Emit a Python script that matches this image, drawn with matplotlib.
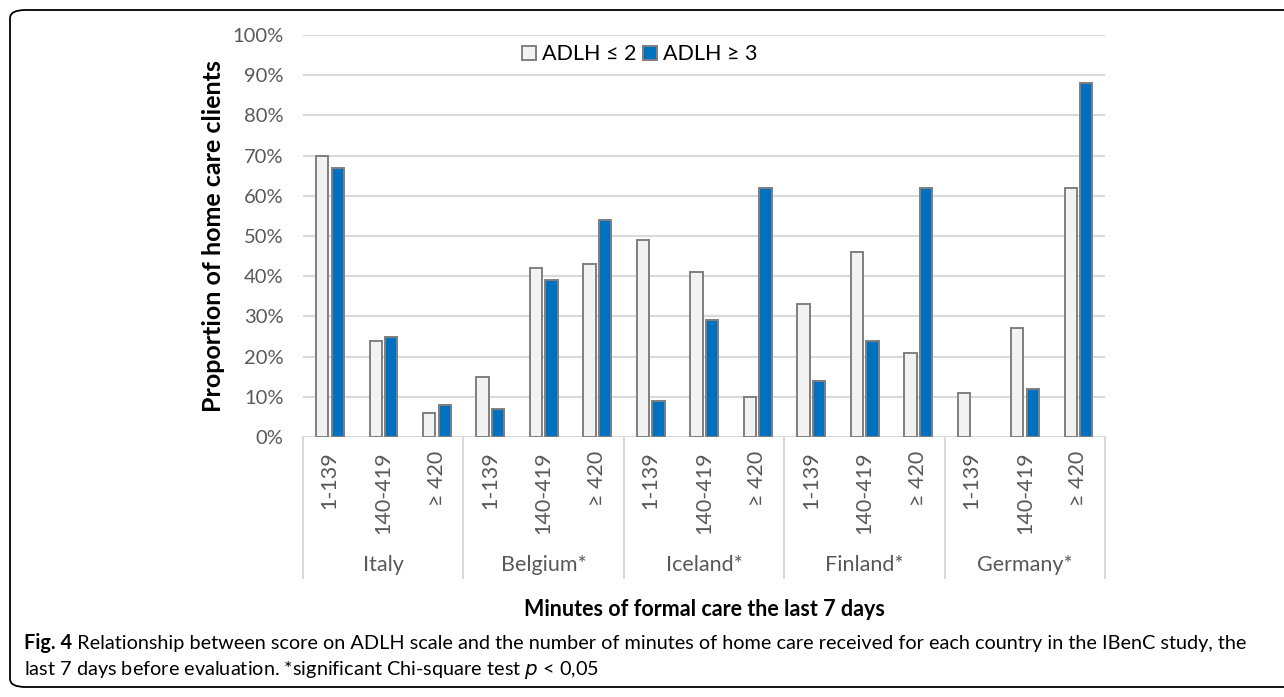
import matplotlib.pyplot as plt
import numpy as np
from matplotlib.patches import FancyBboxPatch

plt.rcParams["font.family"] = ["Lato", "DejaVu Sans"]

countries = ["Italy", "Belgium*", "Iceland*", "Finland*", "Germany*"]
minutes = ["1-139", "140-419", "\u2265 420"]
adlh_low = [70, 24, 6, 15, 42, 43, 49, 41, 10, 33, 46, 21, 11, 27, 62]
adlh_high = [67, 25, 8, 7, 39, 54, 9, 29, 62, 14, 24, 62, 0, 12, 88]
yticks = [0, 10, 20, 30, 40, 50, 60, 70, 80, 90, 100]

W, H = 1284, 697
fig = plt.figure(figsize=(W / 100, H / 100), dpi=100)
ax = fig.add_axes([303 / W, 1 - 437 / H, 802 / W, 402 / H])

x = np.arange(len(adlh_low))
bw = 0.23
ax.bar(x - 0.14, adlh_low, bw, color="#f2f2f2", edgecolor="#7f7f7f",
       linewidth=[1.4 if v > 0 else 0 for v in adlh_low], label="ADLH \u2264 2", zorder=3)
ax.bar(x + 0.15, adlh_high, bw, color="#0070c0", edgecolor="#7f7f7f",
       linewidth=[1.4 if v > 0 else 0 for v in adlh_high], label="ADLH \u2265 3", zorder=3)

ax.set_xlim(-0.5, len(x) - 0.5)
ax.set_ylim(0, 100)
ax.set_yticks(yticks)
ax.set_yticklabels([f"{v}%" for v in yticks], fontsize=14.5, color="#595959")
ax.tick_params(axis="y", length=0, pad=14)
ax.grid(axis="y", color="#d9d9d9", linewidth=1.5, zorder=0)
for s in ax.spines.values():
    s.set_visible(False)
ax.axhline(0, color="#d9d9d9", linewidth=1.5, zorder=2)

# multi-level category axis
ax.set_xticks([])
trans = ax.get_xaxis_transform()
for i in x:
    ax.text(i, -0.035, minutes[i % 3], rotation=90, ha="center", va="top",
            fontsize=15.5, color="#595959", transform=trans)
for g, name in enumerate(countries):
    ax.text(g * 3 + 1, -0.318, name, ha="center", va="center", fontsize=15.5,
            color="#595959", transform=trans)
for b in np.arange(-0.5, len(x), 3):
    ax.plot([b, b], [0, -0.35], color="#d9d9d9", linewidth=1.5, transform=trans,
            clip_on=False)

ax.set_ylabel("Proportion of home care clients", fontsize=18, fontweight="bold",
              labelpad=5)
fig.text(704 / W, 1 - 609 / H, "Minutes of formal care the last 7 days",
         ha="center", va="center", fontsize=15.5, fontweight="bold")

leg = ax.legend(loc="upper center", bbox_to_anchor=(0.42, 1.025), ncol=2,
                frameon=False, fontsize=15.5, handlelength=0.65, handleheight=0.65,
                handletextpad=0.3, columnspacing=0.3)

# caption
cap1 = fig.text(24 / W, 1 - 643 / H, "Fig. 4", ha="left", va="center",
                fontsize=14.3, fontweight="bold")
ax.annotate(" Relationship between score on ADLH scale and the number of minutes of home care received for each country in the IBenC study, the",
            xy=(1, 0.5), xycoords=cap1, ha="left", va="center", fontsize=14.3,
            annotation_clip=False)
fig.text(24 / W, 1 - 670 / H, "last 7 days before evaluation. *significant Chi-square test $p$ < 0,05",
         ha="left", va="center", fontsize=14.3)

frame = FancyBboxPatch((10 / W, 10 / H), 1400 / W, 677 / H,
                       boxstyle="round,pad=0,rounding_size=0.012",
                       transform=fig.transFigure, fill=False, edgecolor="black",
                       linewidth=1.3)
frame.set_clip_on(False)
fig.patches.append(frame)

fig.savefig("out.png", dpi=100)
